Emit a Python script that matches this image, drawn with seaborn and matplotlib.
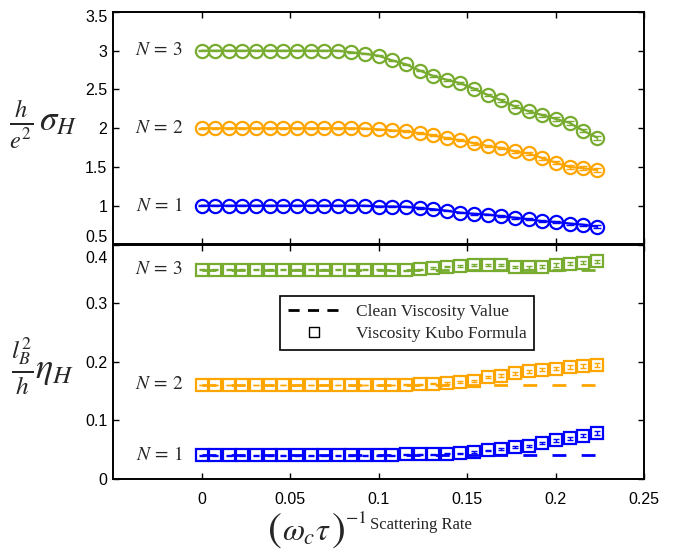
import numpy as np
import pandas as pd
import matplotlib
matplotlib.use("Agg")
import matplotlib.pyplot as plt
import matplotlib.transforms as mtransforms
from matplotlib.lines import Line2D
import seaborn as sns

# Visual setup: MATLAB-like figure, inward ticks, no grid
sns.set_theme(style="ticks")
plt.rcParams['font.family'] = ['Liberation Sans', 'DejaVu Sans']
plt.rcParams['mathtext.fontset'] = 'stix'

# --- data ---
# scattering rate (omega_c tau)^-1
rate = [0.0, 0.0077, 0.0154, 0.0231, 0.0308, 0.0385, 0.0462, 0.0539, 0.0616, 0.0693,
        0.0770, 0.0847, 0.0924, 0.1001, 0.1078, 0.1155, 0.1232, 0.1309, 0.1386, 0.1463,
        0.1540, 0.1617, 0.1694, 0.1771, 0.1848, 0.1925, 0.2002, 0.2079, 0.2156, 0.2233]

# Hall conductivity h/e^2 sigma_H
sigma_n1 = [1.0, 1.0, 1.0, 1.0, 1.0, 1.0, 1.0, 1.0, 1.0, 1.0,
            1.0, 1.0, 1.0, 0.99, 0.99, 0.985, 0.97, 0.955, 0.935, 0.91,
            0.895, 0.885, 0.865, 0.845, 0.825, 0.80, 0.79, 0.77, 0.755, 0.73]
sigma_n2 = [2.0, 2.0, 2.0, 2.0, 2.0, 2.0, 2.0, 2.0, 2.0, 2.0,
            2.0, 2.0, 1.995, 1.985, 1.972, 1.962, 1.935, 1.908, 1.871, 1.845,
            1.805, 1.77, 1.745, 1.70, 1.675, 1.615, 1.555, 1.50, 1.485, 1.46]
sigma_n3 = [3.0, 3.0, 3.0, 3.0, 3.0, 3.0, 3.0, 3.0, 3.0, 3.0,
            3.0, 2.98, 2.96, 2.935, 2.875, 2.825, 2.745, 2.675, 2.625, 2.58,
            2.51, 2.43, 2.36, 2.28, 2.22, 2.17, 2.12, 2.07, 1.97, 1.88]
sigma_err_n1 = [0.004] * 10 + [0.005, 0.005, 0.006, 0.006, 0.007, 0.007, 0.008, 0.008, 0.009, 0.009,
                               0.010, 0.010, 0.011, 0.011, 0.012, 0.012, 0.013, 0.013, 0.014, 0.015]
sigma_err_n2 = [0.005] * 10 + [0.006, 0.006, 0.007, 0.008, 0.009, 0.010, 0.011, 0.012, 0.013, 0.014,
                               0.015, 0.016, 0.017, 0.018, 0.019, 0.020, 0.022, 0.024, 0.026, 0.030]
sigma_err_n3 = [0.005] * 10 + [0.006, 0.006, 0.007, 0.008, 0.009, 0.010, 0.011, 0.012, 0.013, 0.014,
                               0.015, 0.016, 0.017, 0.018, 0.019, 0.020, 0.021, 0.022, 0.024, 0.026]

# Hall viscosity l_B^2/h eta_H (Kubo formula) and clean values
eta_n1 = [0.04, 0.04, 0.04, 0.04, 0.04, 0.04, 0.04, 0.04, 0.04, 0.04,
          0.04, 0.04, 0.04, 0.04, 0.04, 0.0415, 0.0415, 0.0415, 0.0425, 0.043,
          0.045, 0.048, 0.051, 0.054, 0.056, 0.061, 0.065, 0.069, 0.073, 0.078]
eta_n2 = [0.16, 0.16, 0.16, 0.16, 0.16, 0.16, 0.16, 0.16, 0.16, 0.16,
          0.16, 0.16, 0.16, 0.16, 0.16, 0.16, 0.161, 0.162, 0.163, 0.165,
          0.167, 0.173, 0.176, 0.180, 0.183, 0.186, 0.188, 0.190, 0.192, 0.194]
eta_n3 = [0.357, 0.357, 0.357, 0.357, 0.357, 0.357, 0.357, 0.357, 0.357, 0.357,
          0.357, 0.357, 0.357, 0.357, 0.356, 0.356, 0.358, 0.360, 0.362, 0.363,
          0.365, 0.365, 0.365, 0.362, 0.361, 0.362, 0.365, 0.367, 0.369, 0.371]
eta_err_n1 = [0.0007] * 15 + [0.0008, 0.0009, 0.001, 0.0011, 0.0012, 0.0013, 0.0014, 0.0016,
                              0.0018, 0.002, 0.0022, 0.0024, 0.0026, 0.0028, 0.003]
eta_err_n2 = [0.0007] * 15 + [0.0008, 0.0009, 0.001, 0.0012, 0.0014, 0.0016, 0.0018, 0.002,
                              0.0023, 0.0026, 0.0029, 0.0032, 0.0035, 0.0038, 0.0042]
eta_err_n3 = [0.0007] * 15 + [0.0008, 0.0009, 0.001, 0.0011, 0.0012, 0.0014, 0.0016, 0.0018,
                              0.002, 0.0022, 0.0024, 0.0026, 0.0028, 0.003, 0.0032]
eta_clean = [0.04, 0.16, 0.357]

levels = ['N = 1', 'N = 2', 'N = 3']
colores = ['#0000FF', '#FFA500', '#77AC30']

x_ticks = [0, 0.05, 0.1, 0.15, 0.2, 0.25]
x_ticklabels = ['0', '0.05', '0.1', '0.15', '0.2', '0.25']
top_yticks = [0.5, 1, 1.5, 2, 2.5, 3, 3.5]
top_yticklabels = ['0.5', '1', '1.5', '2', '2.5', '3', '3.5']
bot_yticks = [0, 0.1, 0.2, 0.3, 0.4]
bot_yticklabels = ['0', '0.1', '0.2', '0.3', '0.4']

sigmas = [sigma_n1, sigma_n2, sigma_n3]
sigma_errs = [sigma_err_n1, sigma_err_n2, sigma_err_n3]
etas = [eta_n1, eta_n2, eta_n3]
eta_errs = [eta_err_n1, eta_err_n2, eta_err_n3]

fig = plt.figure(figsize=(6.76, 5.53), dpi=100)
ax1 = fig.add_axes([0.1672, 0.5579, 0.7855, 0.4204])
ax2 = fig.add_axes([0.1672, 0.1347, 0.7855, 0.4231])

# Top: Hall conductivity
for lab, cor, ys, es in zip(levels, colores, sigmas, sigma_errs):
    df = pd.DataFrame({'rate': rate, 'valor': ys})
    sns.lineplot(data=df, x='rate', y='valor', color=cor, linewidth=1.6, marker='o',
                 markersize=9.5, markerfacecolor='none', markeredgecolor=cor,
                 markeredgewidth=1.6, sort=False, errorbar=None, ax=ax1)
    ax1.errorbar(rate, ys, yerr=es, fmt='none', ecolor=cor, elinewidth=1.0,
                 capsize=3, capthick=1.0)
    ax1.text(-0.0105, ys[0], r'$N\,=\,' + lab[-1] + '$', ha='right', va='center',
             fontsize=14)

# Bottom: Hall viscosity
for lab, cor, ys, es, limpo in zip(levels, colores, etas, eta_errs, eta_clean):
    df = pd.DataFrame({'rate': rate, 'valor': ys, 'limpo': [limpo] * len(rate)})
    sns.lineplot(data=df, x='rate', y='limpo', color=cor, linewidth=2.0,
                 linestyle=(0, (5, 5.5)), sort=False, errorbar=None, ax=ax2)
    sns.lineplot(data=df, x='rate', y='valor', color=cor, linestyle='none', marker='s',
                 markersize=8.5, markerfacecolor='none', markeredgecolor=cor,
                 markeredgewidth=1.6, sort=False, errorbar=None, ax=ax2)
    ax2.errorbar(rate, ys, yerr=es, fmt='none', ecolor=cor, elinewidth=1.0,
                 capsize=2.5, capthick=1.0)
    ax2.text(-0.0105, limpo, r'$N\,=\,' + lab[-1] + '$', ha='right', va='center',
             fontsize=14)

for ax in (ax1, ax2):
    ax.set_xlim(-0.05, 0.25)
    ax.set_xticks(x_ticks)
    ax.set_xlabel('')
    ax.set_ylabel('')
    ax.tick_params(direction='in', top=True, right=True, length=4, width=1.0,
                   labelsize=11.5, colors='black', pad=4)
    for sp in ax.spines.values():
        sp.set_visible(True)
        sp.set_linewidth(1.4)
        sp.set_color('black')

ax1.set_ylim(0.5, 3.5)
ax1.set_yticks(top_yticks)
ax1.set_yticklabels(top_yticklabels)
ax1.set_xticklabels([])
ax2.set_ylim(0, 0.4)
ax2.set_yticks(bot_yticks)
ax2.set_yticklabels(bot_yticklabels)
ax2.set_xticklabels(x_ticklabels)
ax2.tick_params(axis='x', pad=10)

# nudge edge tick labels so they don't collide at the shared border
def desloca(lbl, dy_px):
    lbl.set_transform(lbl.get_transform() +
                      mtransforms.ScaledTranslation(0, dy_px / 100, fig.dpi_scale_trans))

tl1 = ax1.get_yticklabels()
desloca(tl1[0], 8)
desloca(tl1[-1], -4)
tl2 = ax2.get_yticklabels()
desloca(tl2[-1], -12)

# legend
h1 = Line2D([], [], color='black', lw=2.0, linestyle=(0, (4, 3)))
h2 = Line2D([], [], color='black', marker='s', linestyle='none', markersize=7,
            markerfacecolor='none', markeredgewidth=1.0)
leg = ax2.legend([h1, h2], ['Clean Viscosity Value', 'Viscosity Kubo Formula'],
                 loc='upper left', bbox_to_anchor=(0.3145, 0.78), borderaxespad=0,
                 frameon=True, fancybox=False, edgecolor='black', framealpha=1,
                 prop={'family': 'Liberation Serif', 'size': 12.5},
                 handlelength=3.0, handletextpad=0.9, borderpad=0.45, labelspacing=0.35)
leg.get_frame().set_linewidth(1.2)

# axis labels
fig.text(9 / 676, 1 - 124 / 553, r'$\frac{h}{e^{2}}\,\sigma_{H}$', ha='left', va='center',
         fontsize=25)
fig.text(11 / 676, 1 - 366 / 553, r'$\frac{l_{B}^{2}}{h}\eta_{H}$', ha='left', va='center',
         fontsize=26)
# (omega_c tau)^-1 built from pieces so the brackets come out taller
fig.text(267 / 676, 1 - 541 / 553, '$($', ha='left', va='baseline', fontsize=30)
fig.text(282 / 676, 1 - 541 / 553, r'$\omega_{c}\tau$', ha='left', va='baseline', fontsize=23)
fig.text(331 / 676, 1 - 541 / 553, '$)$', ha='left', va='baseline', fontsize=30)
fig.text(345 / 676, 1 - 523 / 553, '$-1$', ha='left', va='baseline', fontsize=13)
fig.text(370 / 676, 1 - 529 / 553, 'Scattering Rate', ha='left', va='baseline',
         fontsize=12, family='Liberation Serif')

fig.savefig('out.png', dpi=100)
